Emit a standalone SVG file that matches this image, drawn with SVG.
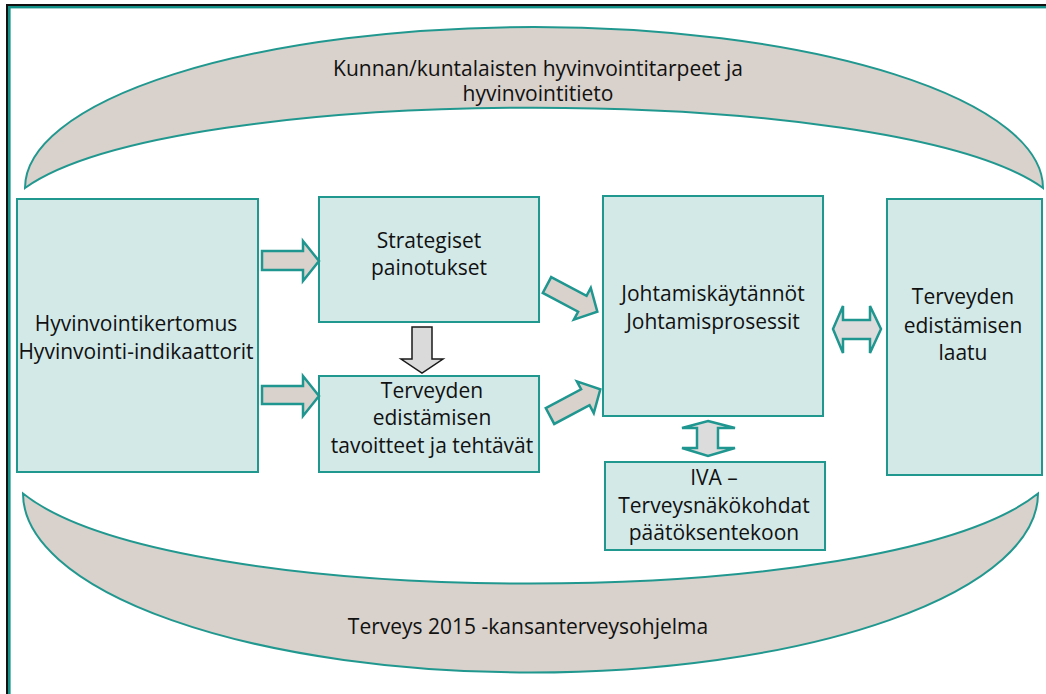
<svg xmlns="http://www.w3.org/2000/svg" width="1046" height="694" viewBox="0 0 1046 694">
  <style>
    .box { fill: #d3e9e8; stroke: #21988f; stroke-width: 2; }
    .arc { fill: #d9d1cb; stroke: #21988f; stroke-width: 2; }
    .arr { fill: #d9d1cb; stroke: #1f968f; stroke-width: 2.5; stroke-linejoin: miter; }
    .dbl { fill: #dcdcdc; stroke: #1f968f; stroke-width: 2.5; stroke-linejoin: miter; }
    .down { fill: #dadada; stroke: #1a1a1a; stroke-width: 1.5; }
    text { font-family: "Open Sans", "Liberation Sans", sans-serif; font-size: 21px; fill: #111; text-anchor: middle; }
  </style>

  <!-- frame -->
  <g id="frame">
    <rect x="6" y="4" width="1040" height="2" fill="#111"/>
    <rect x="6" y="4" width="2" height="690" fill="#111"/>
    <rect x="8" y="6" width="1038" height="2.4" fill="#13928a"/>
    <rect x="8" y="6" width="2.6" height="688" fill="#13928a"/>
  </g>

  <!-- crescents -->
  <g id="top-arc">
    <path class="arc" d="M25,188 A509,161 0 0 1 1043,188 C893,81 175,81 25,188 Z"/>
    <text x="538" y="76">Kunnan/kuntalaisten hyvinvointitarpeet ja</text>
    <text x="538" y="101">hyvinvointitieto</text>
  </g>
  <g id="bottom-arc">
    <path class="arc" d="M23,493.5 A507.5,179 0 0 0 1038,493.5 C888,613.5 173,613.5 23,493.5 Z"/>
    <text x="528" y="634">Terveys 2015 -kansanterveysohjelma</text>
  </g>

  <!-- nodes -->
  <g id="hyvinvointi">
    <rect class="box" x="17" y="199" width="241" height="273"/>
    <text x="136" y="331">Hyvinvointikertomus</text>
    <text x="136" y="359">Hyvinvointi-indikaattorit</text>
  </g>
  <g id="strategiset">
    <rect class="box" x="319" y="197" width="220" height="125"/>
    <text x="429" y="248">Strategiset</text>
    <text x="429" y="275">painotukset</text>
  </g>
  <g id="tavoitteet">
    <rect class="box" x="319" y="376" width="220" height="96"/>
    <text x="432" y="398">Terveyden</text>
    <text x="432" y="425">edistämisen</text>
    <text x="432" y="453">tavoitteet ja tehtävät</text>
  </g>
  <g id="johtaminen">
    <rect class="box" x="603" y="196" width="220" height="220"/>
    <text x="713" y="301">Johtamiskäytännöt</text>
    <text x="713" y="329">Johtamisprosessit</text>
  </g>
  <g id="iva">
    <rect class="box" x="605" y="462" width="220" height="88"/>
    <text x="714" y="485">IVA –</text>
    <text x="714" y="513">Terveysnäkökohdat</text>
    <text x="714" y="540">päätöksentekoon</text>
  </g>
  <g id="laatu">
    <rect class="box" x="887" y="199" width="155" height="276"/>
    <text x="963" y="304">Terveyden</text>
    <text x="963" y="333">edistämisen</text>
    <text x="963" y="360">laatu</text>
  </g>

  <!-- connectors -->
  <g id="connectors">
    <polygon class="arr" points="262,251 303,251 303,241 319,261 303,281 303,270 262,270"/>
    <polygon class="arr" points="262,386 303,386 303,376 319,396 303,416 303,404 262,404"/>
    <polygon class="down" points="412,327 432,327 432,359 443,359 422,373 401,359 412,359"/>
    <polygon class="arr" transform="translate(547,285) rotate(28)" points="0,-9 40,-9 40,-18 57,0 40,18 40,9 0,9"/>
    <polygon class="arr" transform="translate(550,416) rotate(-28)" points="0,-9 40,-9 40,-18 57,0 40,18 40,9 0,9"/>
    <polygon class="dbl" points="833,329 843,306 843,320 870,320 870,306 881,329 870,353 870,339 843,339 843,353"/>
    <polygon class="dbl" points="708,421 735,428 718,428 718,448 735,448 708,456 682,448 697,448 697,428 682,428"/>
  </g>
</svg>
